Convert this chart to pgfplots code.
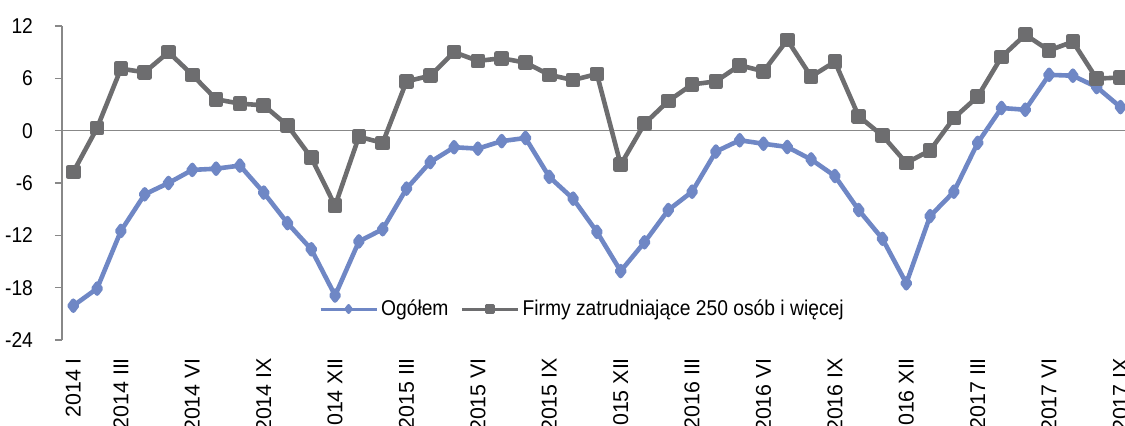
\documentclass[border=0pt]{standalone}
\usepackage{fontspec}
\setmainfont{Liberation Sans}
\newfontfamily\condensed{Liberation Sans}[FakeStretch=0.9]
\usepackage{pgfplots}
\pgfplotsset{compat=1.18}
\definecolor{cblue}{RGB}{111,135,197}
\definecolor{cgrey}{RGB}{109,109,111}
\definecolor{caxis}{RGB}{136,136,136}
\begin{document}
\begin{tikzpicture}
\begin{axis}[
  scale only axis,
  width=531.5pt, height=157pt,
  xmin=-0.475, xmax=44.19,
  ymin=-24, ymax=12,
  axis y line*=left,
  axis x line*=bottom,
  x axis line style={draw=none},
  y axis line style={draw=caxis, line width=0.9pt},
  xtick={0,2,5,8,11,14,17,20,23,26,29,32,35,38,41,44},
  xticklabels={2014 I,2014 III,2014 VI,2014 IX,2014 XII,2015 III,2015 VI,2015 IX,2015 XII,2016 III,2016 VI,2016 IX,2016 XII,2017 III,2017 VI,2017 IX},
  xtick style={draw=none},
  xticklabel style={rotate=90, anchor=east, font=\fontsize{10.7}{12}\selectfont},
  xticklabel shift=2pt,
  ytick={-24,-18,-12,-6,0,6,12},
  yticklabels={-24,-18,-12,-6,0,6,12},
  ytick style={draw=caxis, line width=0.8pt},
  tick align=outside,
  major tick length=3.5pt,
  yticklabel style={font=\condensed\fontsize{10.7}{12}\selectfont},
  yticklabel shift=7.5pt,
  legend columns=2,
  legend style={at={(0.2415,0.0987)}, anchor=west, draw=none, fill=none, inner sep=0pt,
    font=\condensed\fontsize{10.7}{12}\selectfont,
    nodes={inner sep=1.5pt},
    /tikz/every even column/.append style={column sep=4.5pt}},
  legend image code/.code={\draw[mark repeat=2,mark phase=2,#1] plot coordinates {(0pt,0pt) (14pt,0pt) (28pt,0pt)};},
  legend image post style={line width=1.5pt, mark size=1.75pt},
]
\addplot[caxis, line width=0.8pt, forget plot] coordinates {(-0.475,0) (44.19,0)};
\addplot[cblue, line width=2.3pt, mark=diamond*, mark size=2.5pt, line join=round] coordinates {
(0,-20.07) (1,-18.1) (2,-11.5) (3,-7.3) (4,-6.0) (5,-4.5) (6,-4.36) (7,-4.0) (8,-7.1) (9,-10.6)
(10,-13.6) (11,-18.9) (12,-12.7) (13,-11.3) (14,-6.65) (15,-3.6) (16,-1.9) (17,-2.06) (18,-1.2) (19,-0.84)
(20,-5.3) (21,-7.8) (22,-11.6) (23,-16.1) (24,-12.8) (25,-9.1) (26,-7.0) (27,-2.4) (28,-1.1) (29,-1.5)
(30,-1.87) (31,-3.3) (32,-5.2) (33,-9.1) (34,-12.4) (35,-17.5) (36,-9.8) (37,-7.0) (38,-1.4) (39,2.6)
(40,2.4) (41,6.4) (42,6.3) (43,5.0) (44,2.7)};
\addlegendentry{Ogółem}
\addplot[cgrey, line width=2.3pt, mark=square*, mark size=2.5pt, line join=round] coordinates {
(0,-4.74) (1,0.31) (2,7.1) (3,6.7) (4,9.0) (5,6.4) (6,3.6) (7,3.1) (8,2.9) (9,0.6)
(10,-3.1) (11,-8.6) (12,-0.7) (13,-1.4) (14,5.65) (15,6.3) (16,9.0) (17,8.0) (18,8.3) (19,7.8)
(20,6.4) (21,5.8) (22,6.5) (23,-3.9) (24,0.8) (25,3.4) (26,5.3) (27,5.65) (28,7.5) (29,6.8)
(30,10.4) (31,6.2) (32,7.9) (33,1.65) (34,-0.57) (35,-3.7) (36,-2.26) (37,1.45) (38,3.9) (39,8.45)
(40,11.0) (41,9.2) (42,10.2) (43,5.96) (44,6.1)};
\addlegendentry{Firmy zatrudniające 250 osób i więcej}
\end{axis}
\pgfresetboundingbox
\useasboundingbox (current axis.south west) ++(-31pt,-43pt) rectangle ++(562.5pt,213pt);
\end{tikzpicture}
\end{document}
